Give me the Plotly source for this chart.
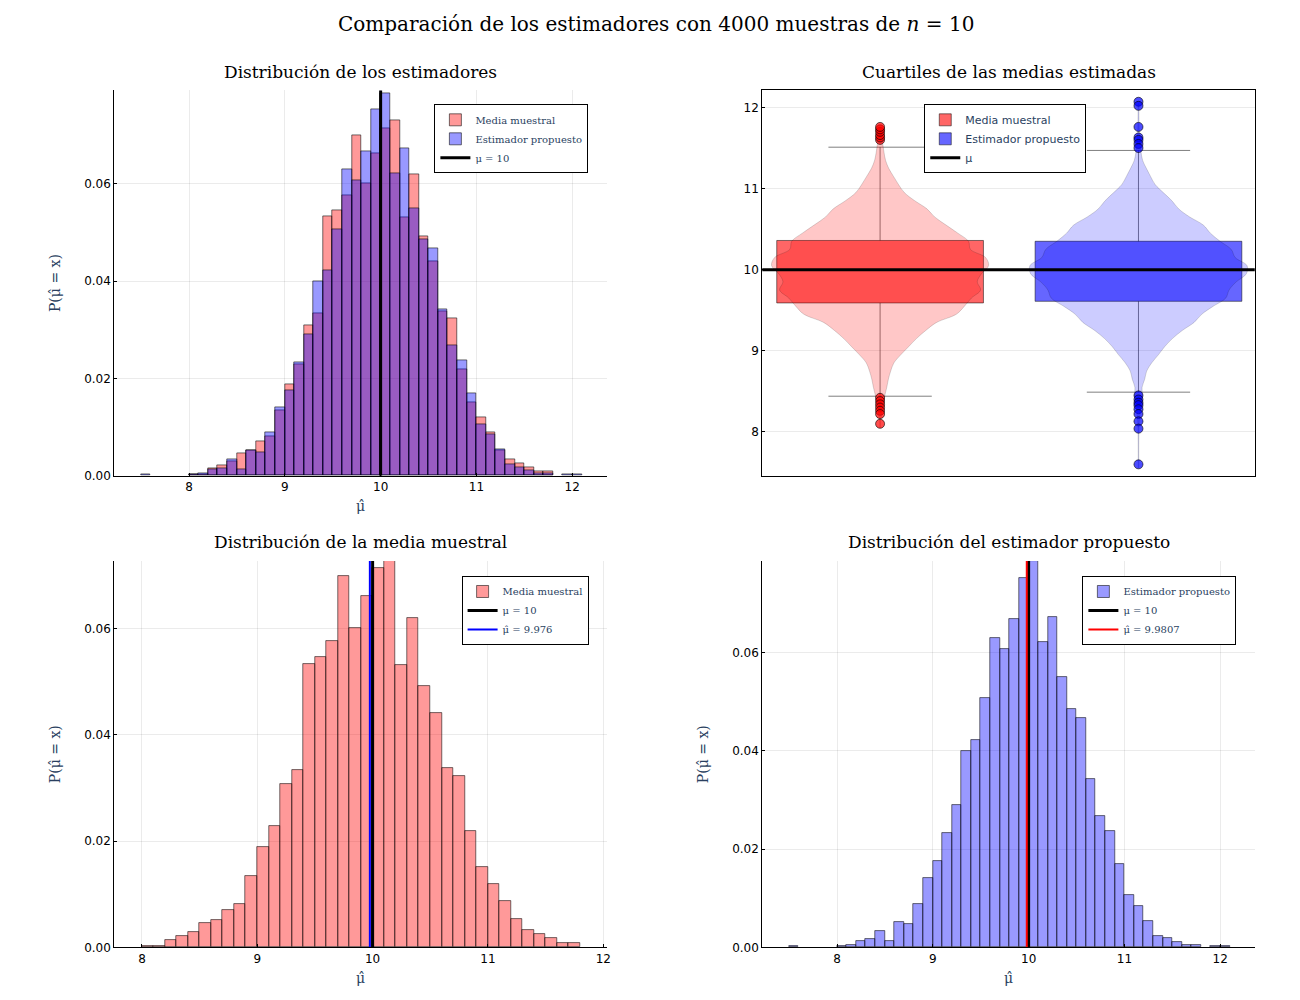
import numpy as np
import plotly.graph_objects as go

MU = 10
N_MUESTRAS = 4000
N = 10
MEDIA_HAT = 9.976
PROP_HAT = 9.9807
BIN = 0.1

# densidad por bin (bins de ancho 0.1)
media_bins = [round(8.0 + i * BIN, 2) for i in range(38)]
media_dens = [0.0002, 0.0002, 0.0014, 0.0021, 0.0029, 0.0046, 0.0051, 0.0071, 0.0081, 0.0134,
              0.0188, 0.0229, 0.0308, 0.0333, 0.0534, 0.0546, 0.0576, 0.0699, 0.0601, 0.0662,
              0.0714, 0.0730, 0.0531, 0.0619, 0.0491, 0.0440, 0.0338, 0.0323, 0.0218, 0.0151,
              0.0120, 0.0088, 0.0053, 0.0033, 0.0025, 0.0018, 0.0008, 0.0008]

prop_bins = [7.5] + [round(8.0 + i * BIN, 2) for i in range(38)] + [11.9, 12.0]
prop_dens = [0.0002,
             0.0003, 0.0005, 0.0013, 0.0016, 0.0034, 0.0013, 0.0051, 0.0048, 0.0088, 0.0140,
             0.0175, 0.0233, 0.0290, 0.0400, 0.0422, 0.0507, 0.0629, 0.0606, 0.0667, 0.0752,
             0.0785, 0.0622, 0.0672, 0.0549, 0.0485, 0.0467, 0.0342, 0.0267, 0.0237, 0.0170,
             0.0106, 0.0085, 0.0054, 0.0023, 0.0018, 0.0011, 0.0005, 0.0005,
             0.0002, 0.0002]

# cuartiles y bigotes
media_box = dict(q1=9.59, median=10.0, q3=10.36, lower=8.44, upper=11.51)
prop_box = dict(q1=9.61, median=10.0, q3=10.35, lower=8.49, upper=11.47)
media_out = [11.60, 11.63, 11.66, 11.70, 11.73, 11.76, 8.42, 8.38, 8.34, 8.30, 8.26, 8.22, 8.10]
prop_out = [12.07, 12.02, 11.76, 11.63, 11.60, 11.55, 11.50,
            8.45, 8.40, 8.36, 8.33, 8.28, 8.22, 8.13, 8.04, 7.60]
grupos = ["Media muestral", "Estimador propuesto"]
pos = [0.5, 1.5]

RED_BAR = "rgba(255,0,0,0.4)"
BLUE_BAR = "rgba(0,0,255,0.4)"
EDGE = dict(color="rgba(0,0,0,0.55)", width=1)
SERIF = "DejaVu Serif"

fig = go.Figure()


def hist(dens, bins, color, name, xa, ya, legend, show=True):
    centers = [b + BIN / 2 for b in bins]
    fig.add_trace(go.Bar(x=centers, y=dens, width=BIN, marker=dict(color=color, line=EDGE),
                         name=name, xaxis=xa, yaxis=ya, legend=legend, showlegend=show))


def vline(x, top, color, width, name, xa, ya, legend):
    fig.add_trace(go.Scatter(x=[x, x], y=[0, top], mode="lines", line=dict(color=color, width=width),
                             name=name, xaxis=xa, yaxis=ya, legend=legend))


# arriba izquierda
hist(media_dens, media_bins, RED_BAR, "Media muestral", "x", "y", "legend")
hist(prop_dens, prop_bins, BLUE_BAR, "Estimador propuesto", "x", "y", "legend")
vline(MU, 0.08, "black", 3, "μ = 10", "x", "y", "legend")

# arriba derecha: violines + cajas
for dens, bins, p, fillv in [(media_dens, media_bins, pos[0], "rgba(255,0,0,0.22)"),
                             (prop_dens, prop_bins, pos[1], "rgba(0,0,255,0.2)")]:
    d = np.convolve(dens, [0.2, 0.6, 0.2], mode="same")
    d = d / d.max() * 0.42
    yc = np.array(bins) + BIN / 2
    xs = np.concatenate([p + d, (p - d)[::-1]])
    ys = np.concatenate([yc, yc[::-1]])
    fig.add_trace(go.Scatter(x=xs, y=ys, fill="toself", fillcolor=fillv, mode="lines",
                             line=dict(color="rgba(0,0,0,0.15)", width=1, shape="spline"),
                             showlegend=False, xaxis="x2", yaxis="y2", hoverinfo="skip"))

for g, p, b, col, out in [(grupos[0], pos[0], media_box, "rgba(255,0,0,0.6)", media_out),
                          (grupos[1], pos[1], prop_box, "rgba(0,0,255,0.6)", prop_out)]:
    fig.add_trace(go.Box(x=[p], q1=[b["q1"]], median=[b["median"]], q3=[b["q3"]],
                         lowerfence=[b["lower"]], upperfence=[b["upper"]], width=0.8,
                         whiskerwidth=0.5, fillcolor=col, line=dict(color="rgba(0,0,0,0.5)", width=1),
                         boxpoints=False, name=g, xaxis="x2", yaxis="y2", legend="legend2"))
    fig.add_trace(go.Scatter(x=[p] * len(out), y=out, mode="markers",
                             marker=dict(color=col.replace("0.6", "0.7"), size=9,
                                         line=dict(color="rgba(0,0,0,0.6)", width=1)),
                             showlegend=False, xaxis="x2", yaxis="y2"))
fig.add_trace(go.Scatter(x=[0, 2], y=[MU, MU], mode="lines", line=dict(color="black", width=3),
                         name="μ", xaxis="x2", yaxis="y2", legend="legend2"))

# abajo izquierda
hist(media_dens, media_bins, RED_BAR, "Media muestral", "x3", "y3", "legend3")
vline(MU, 0.08, "black", 3, "μ = 10", "x3", "y3", "legend3")
vline(MEDIA_HAT, 0.08, "blue", 2, f"μ̂ = {MEDIA_HAT}", "x3", "y3", "legend3")

# abajo derecha
hist(prop_dens, prop_bins, BLUE_BAR, "Estimador propuesto", "x4", "y4", "legend4")
vline(MU, 0.08, "black", 3, "μ = 10", "x4", "y4", "legend4")
vline(PROP_HAT, 0.08, "red", 2, f"μ̂ = {PROP_HAT}", "x4", "y4", "legend4")

L = [0.082, 0.462]
R = [0.582, 0.962]
T = [0.529, 0.917]
B = [0.054, 0.443]
tick = dict(ticks="inside", ticklen=3, tickcolor="black", showline=True, linecolor="black",
            showgrid=True, gridcolor="rgba(0,0,0,0.08)", zeroline=False,
            tickfont=dict(family="DejaVu Sans", size=12, color="black"))
ytitle = dict(text="P(μ̂ = x)", font=dict(family=SERIF, size=14), standoff=20)
xtitle = dict(text="μ̂", font=dict(family=SERIF, size=14), standoff=8)

fig.update_layout(
    width=1300, height=1000, margin=dict(l=0, r=0, t=0, b=0),
    plot_bgcolor="white", paper_bgcolor="white", barmode="overlay", bargap=0,
    xaxis=dict(domain=L, anchor="y", range=[7.22, 12.36], dtick=1, title=xtitle, **tick),
    yaxis=dict(domain=T, anchor="x", range=[0, 0.0792], dtick=0.02, tickformat=".2f", title=ytitle, **tick),
    xaxis2=dict(domain=R, anchor="y2", range=[0.044, 1.95], showticklabels=False, mirror=True,
                showline=True, linecolor="black", ticks="", showgrid=False, zeroline=False),
    yaxis2=dict(domain=T, anchor="x2", range=[7.46, 12.21], dtick=1, mirror=True, **tick),
    xaxis3=dict(domain=L, anchor="y3", range=[7.76, 12.03], dtick=1, title=xtitle, **tick),
    yaxis3=dict(domain=B, anchor="x3", range=[0, 0.0727], dtick=0.02, tickformat=".2f", title=ytitle, **tick),
    xaxis4=dict(domain=R, anchor="y4", range=[7.22, 12.36], dtick=1, title=xtitle, **tick),
    yaxis4=dict(domain=B, anchor="x4", range=[0, 0.0786], dtick=0.02, tickformat=".2f", title=ytitle, **tick),
)

leg = dict(xanchor="left", yanchor="top", bordercolor="black", borderwidth=1, bgcolor="white",
           font=dict(family=SERIF, size=10), tracegroupgap=0, itemwidth=30)
fig.update_layout(
    legend=dict(x=0.329, y=0.903, **leg),
    legend2=dict(x=0.707, y=0.903, **{**leg, "font": dict(family="DejaVu Sans", size=11)}),
    legend3=dict(x=0.35, y=0.428, **leg),
    legend4=dict(x=0.829, y=0.428, **leg),
)

ann = [
    dict(text=f"Comparación de los estimadores con {N_MUESTRAS} muestras de <i>n</i> = {N}",
         x=0.5, y=0.984, size=20),
    dict(text="Distribución de los estimadores", x=0.272, y=0.936, size=17),
    dict(text="Cuartiles de las medias estimadas", x=0.772, y=0.936, size=17),
    dict(text="Distribución de la media muestral", x=0.272, y=0.462, size=17),
    dict(text="Distribución del estimador propuesto", x=0.772, y=0.462, size=17),
]
for a in ann:
    fig.add_annotation(text=a["text"], x=a["x"], y=a["y"], xref="paper", yref="paper",
                       xanchor="center", yanchor="middle", showarrow=False,
                       font=dict(family=SERIF, size=a["size"], color="black"))

fig.write_html("out.html")
